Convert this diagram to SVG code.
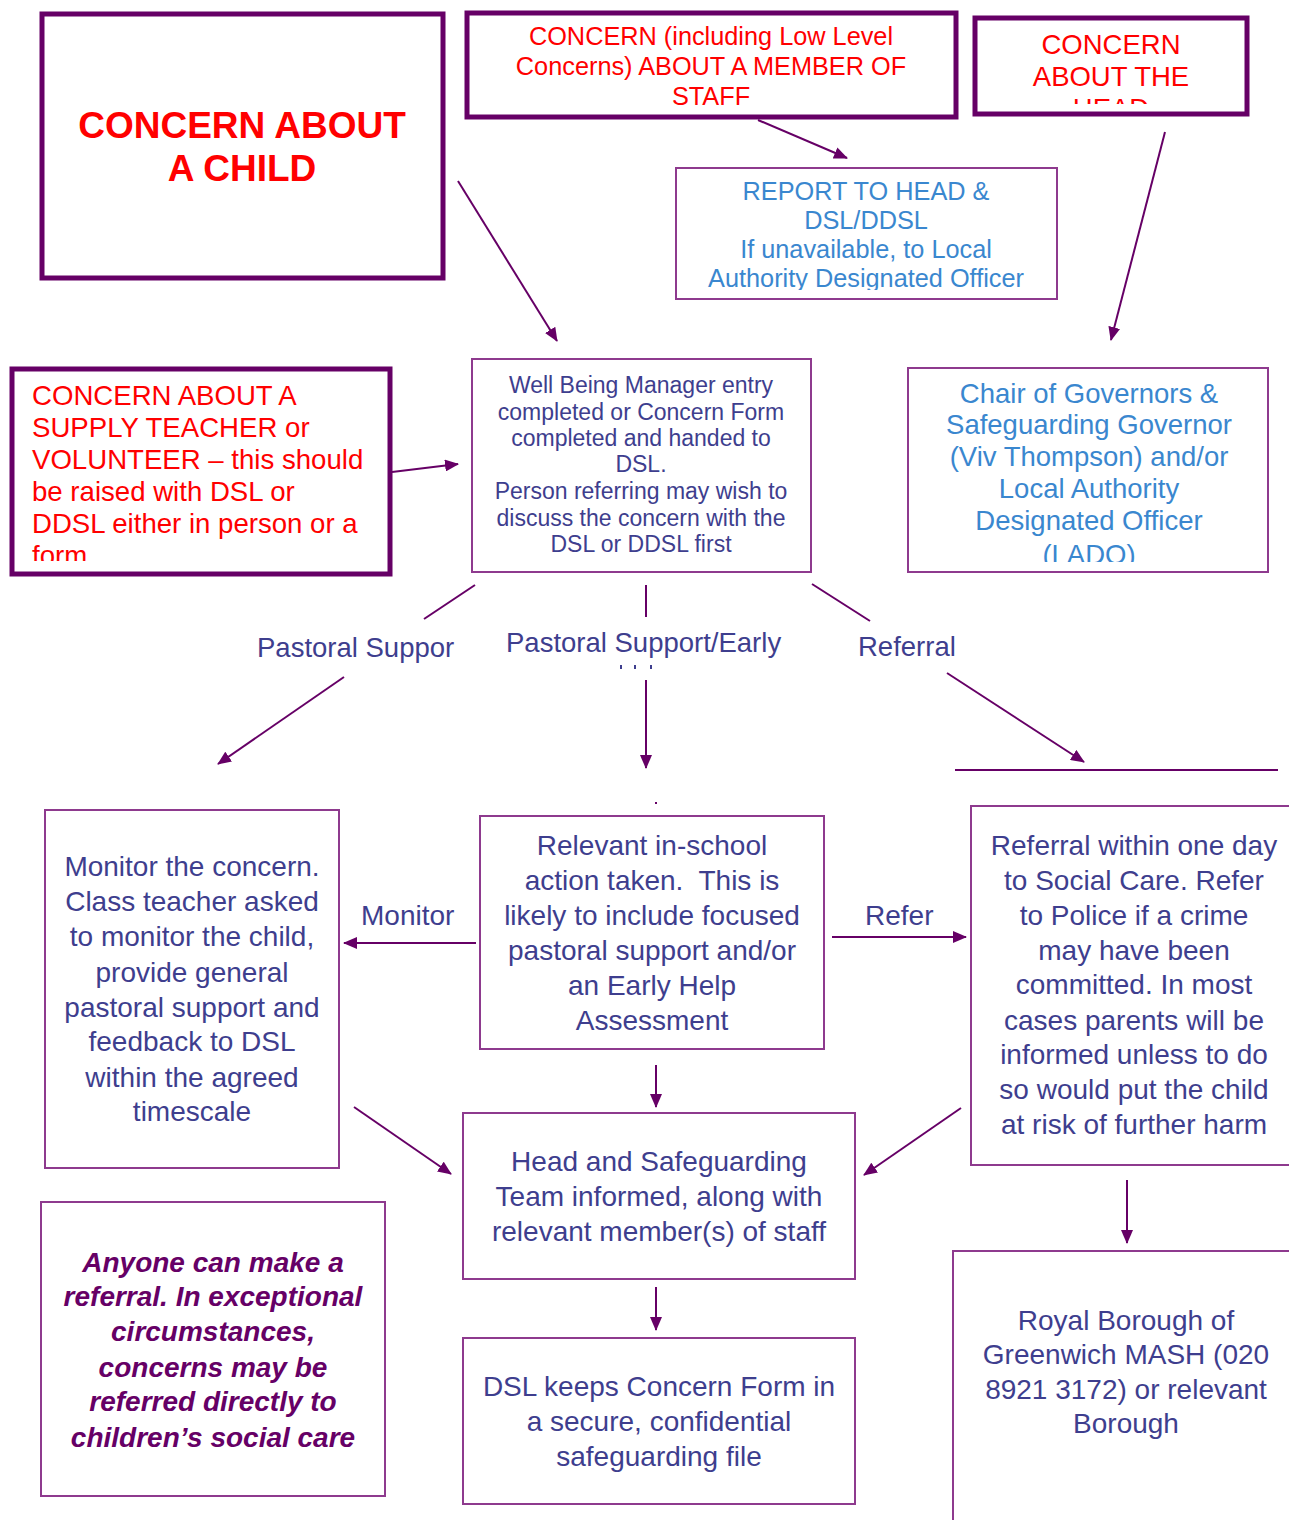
<svg xmlns="http://www.w3.org/2000/svg" width="1289" height="1520" viewBox="0 0 1289 1520">
<style>
.thick{fill:#fff;stroke:#660066;stroke-width:5}
.thin{fill:#fff;stroke:#8E3A8E;stroke-width:2}
.red{font-family:"Liberation Sans",Arial,sans-serif;fill:#FF0000}
.redb{font-family:"Liberation Sans",Arial,sans-serif;fill:#FF0000;font-weight:bold}
.lb{font-family:"Liberation Sans",Arial,sans-serif;fill:#3A87CF}
.db{font-family:"Liberation Sans",Arial,sans-serif;fill:#3E3E8E}
.pi{font-family:"Liberation Sans",Arial,sans-serif;fill:#660066;font-weight:bold;font-style:italic}
.c{text-anchor:middle}
.ln{stroke:#660066;stroke-width:2;fill:none}
</style>
<defs>
<marker id="ah" markerUnits="userSpaceOnUse" markerWidth="14" markerHeight="12" refX="13" refY="6" orient="auto">
<path d="M0,0 L14,6 L0,12 Z" fill="#660066"/>
</marker>
<clipPath id="cStaff"><rect x="466" y="12" width="491" height="95"/></clipPath>
<clipPath id="cHead"><rect x="974" y="17" width="274" height="87"/></clipPath>
<clipPath id="cReport"><rect x="676" y="168" width="381" height="122"/></clipPath>
<clipPath id="cSupply"><rect x="10" y="367" width="380" height="194"/></clipPath>
<clipPath id="cChair"><rect x="908" y="368" width="360" height="194"/></clipPath>
</defs>

<g id="connectors">
<line class="ln" x1="458" y1="181" x2="557" y2="341" marker-end="url(#ah)"/>
<line class="ln" x1="758" y1="120" x2="847" y2="158" marker-end="url(#ah)"/>
<line class="ln" x1="1165" y1="132" x2="1111" y2="340" marker-end="url(#ah)"/>
<line class="ln" x1="392" y1="472" x2="458" y2="464" marker-end="url(#ah)"/>
<line class="ln" x1="475" y1="585" x2="424" y2="619"/>
<line class="ln" x1="646" y1="585" x2="646" y2="617"/>
<line class="ln" x1="812" y1="584" x2="870" y2="621"/>
<line class="ln" x1="344" y1="677" x2="218" y2="764" marker-end="url(#ah)"/>
<line class="ln" x1="646" y1="680" x2="646" y2="768" marker-end="url(#ah)"/>
<line class="ln" x1="947" y1="673" x2="1084" y2="762" marker-end="url(#ah)"/>
<line class="ln" x1="955" y1="770" x2="1278" y2="770"/>
<line class="ln" x1="476" y1="943" x2="344" y2="943" marker-end="url(#ah)"/>
<line class="ln" x1="832" y1="937" x2="966" y2="937" marker-end="url(#ah)"/>
<line class="ln" x1="656" y1="1065" x2="656" y2="1107" marker-end="url(#ah)"/>
<line class="ln" x1="354" y1="1107" x2="451" y2="1174" marker-end="url(#ah)"/>
<line class="ln" x1="961" y1="1108" x2="864" y2="1175" marker-end="url(#ah)"/>
<line class="ln" x1="656" y1="1287" x2="656" y2="1330" marker-end="url(#ah)"/>
<line class="ln" x1="1127" y1="1180" x2="1127" y2="1243" marker-end="url(#ah)"/>
<rect x="655" y="802" width="2" height="2" fill="#660066"/>
<text class="db" font-size="27.5" x="257" y="657">Pastoral Suppor</text>
<text class="db" font-size="27.5" x="506" y="652">Pastoral Support/Early</text>
<g fill="#3E3E8E"><rect x="620" y="665" width="2" height="4"/><rect x="634" y="665" width="2" height="4"/><rect x="650" y="665" width="2" height="4"/></g>
<text class="db" font-size="27.5" x="858" y="656">Referral</text>
<text class="db" font-size="28" x="361" y="925">Monitor</text>
<text class="db" font-size="28" x="865" y="925">Refer</text>
</g>

<g id="child">
<rect class="thick" x="42" y="14" width="401" height="264"/>
<text class="redb c" font-size="37" x="242" y="138">CONCERN ABOUT</text>
<text class="redb c" font-size="37" x="242" y="181">A CHILD</text>
</g>

<g id="staff">
<rect class="thick" x="467" y="13" width="489" height="104"/>
<g clip-path="url(#cStaff)">
<text class="red c" font-size="25.3" x="711" y="45">CONCERN (including Low Level</text>
<text class="red c" font-size="25.3" x="711" y="75">Concerns) ABOUT A MEMBER OF</text>
<text class="red c" font-size="25.3" x="711" y="105">STAFF</text>
</g>
</g>

<g id="head">
<rect class="thick" x="975" y="18" width="272" height="96"/>
<g clip-path="url(#cHead)">
<text class="red c" font-size="27.5" x="1111" y="54">CONCERN</text>
<text class="red c" font-size="27.5" x="1111" y="86">ABOUT THE</text>
<text class="red c" font-size="27.5" x="1111" y="118">HEAD</text>
</g>
</g>

<g id="report">
<rect class="thin" x="676" y="168" width="381" height="131"/>
<g clip-path="url(#cReport)">
<text class="lb c" font-size="25.3" x="866" y="200">REPORT TO HEAD &amp;</text>
<text class="lb c" font-size="25.3" x="866" y="229">DSL/DDSL</text>
<text class="lb c" font-size="25.3" x="866" y="258">If unavailable, to Local</text>
<text class="lb c" font-size="25.3" x="866" y="287">Authority Designated Officer</text>
</g>
</g>

<g id="supply">
<rect class="thick" x="12" y="369" width="378" height="205"/>
<g clip-path="url(#cSupply)">
<text class="red" font-size="27.6" x="32" y="405">CONCERN ABOUT A</text>
<text class="red" font-size="27.6" x="32" y="437">SUPPLY TEACHER or</text>
<text class="red" font-size="27.6" x="32" y="469">VOLUNTEER – this should</text>
<text class="red" font-size="27.6" x="32" y="501">be raised with DSL or</text>
<text class="red" font-size="27.6" x="32" y="533">DDSL either in person or a</text>
<text class="red" font-size="27.6" x="32" y="565">form</text>
</g>
</g>

<g id="wellbeing">
<rect class="thin" x="472" y="359" width="339" height="213"/>
<text class="db c" font-size="23" x="641" y="393">Well Being Manager entry</text>
<text class="db c" font-size="23" x="641" y="420">completed or Concern Form</text>
<text class="db c" font-size="23" x="641" y="446">completed and handed to</text>
<text class="db c" font-size="23" x="641" y="472">DSL.</text>
<text class="db c" font-size="23" x="641" y="499">Person referring may wish to</text>
<text class="db c" font-size="23" x="641" y="526">discuss the concern with the</text>
<text class="db c" font-size="23" x="641" y="552">DSL or DDSL first</text>
</g>

<g id="chair">
<rect class="thin" x="908" y="368" width="360" height="204"/>
<g clip-path="url(#cChair)">
<text class="lb c" font-size="27.5" x="1089" y="403">Chair of Governors &amp;</text>
<text class="lb c" font-size="27.5" x="1089" y="434">Safeguarding Governor</text>
<text class="lb c" font-size="27.5" x="1089" y="466">(Viv Thompson) and/or</text>
<text class="lb c" font-size="27.5" x="1089" y="498">Local Authority</text>
<text class="lb c" font-size="27.5" x="1089" y="530">Designated Officer</text>
<text class="lb c" font-size="27.5" x="1089" y="564">(LADO)</text>
</g>
</g>

<g id="monitor">
<rect class="thin" x="45" y="810" width="294" height="358"/>
<text class="db c" font-size="28" x="192" y="876">Monitor the concern.</text>
<text class="db c" font-size="28" x="192" y="911">Class teacher asked</text>
<text class="db c" font-size="28" x="192" y="946">to monitor the child,</text>
<text class="db c" font-size="28" x="192" y="982">provide general</text>
<text class="db c" font-size="28" x="192" y="1017">pastoral support and</text>
<text class="db c" font-size="28" x="192" y="1051">feedback to DSL</text>
<text class="db c" font-size="28" x="192" y="1087">within the agreed</text>
<text class="db c" font-size="28" x="192" y="1121">timescale</text>
</g>

<g id="relevant">
<rect class="thin" x="480" y="816" width="344" height="233"/>
<text class="db c" font-size="28" x="652" y="855">Relevant in-school</text>
<text class="db c" font-size="28" x="652" y="890" xml:space="preserve">action taken.  This is</text>
<text class="db c" font-size="28" x="652" y="925">likely to include focused</text>
<text class="db c" font-size="28" x="652" y="960">pastoral support and/or</text>
<text class="db c" font-size="28" x="652" y="995">an Early Help</text>
<text class="db c" font-size="28" x="652" y="1030">Assessment</text>
</g>

<g id="referral">
<rect class="thin" x="971" y="806" width="330" height="359"/>
<text class="db c" font-size="28" x="1134" y="855">Referral within one day</text>
<text class="db c" font-size="28" x="1134" y="890">to Social Care. Refer</text>
<text class="db c" font-size="28" x="1134" y="925">to Police if a crime</text>
<text class="db c" font-size="28" x="1134" y="960">may have been</text>
<text class="db c" font-size="28" x="1134" y="994">committed. In most</text>
<text class="db c" font-size="28" x="1134" y="1030">cases parents will be</text>
<text class="db c" font-size="28" x="1134" y="1064">informed unless to do</text>
<text class="db c" font-size="28" x="1134" y="1099">so would put the child</text>
<text class="db c" font-size="28" x="1134" y="1134">at risk of further harm</text>
</g>

<g id="informed">
<rect class="thin" x="463" y="1113" width="392" height="166"/>
<text class="db c" font-size="28" x="659" y="1171">Head and Safeguarding</text>
<text class="db c" font-size="28" x="659" y="1206">Team informed, along with</text>
<text class="db c" font-size="28" x="659" y="1241">relevant member(s) of staff</text>
</g>

<g id="dslkeeps">
<rect class="thin" x="463" y="1338" width="392" height="166"/>
<text class="db c" font-size="28" x="659" y="1396">DSL keeps Concern Form in</text>
<text class="db c" font-size="28" x="659" y="1431">a secure, confidential</text>
<text class="db c" font-size="28" x="659" y="1466">safeguarding file</text>
</g>

<g id="anyone">
<rect class="thin" x="41" y="1202" width="344" height="294"/>
<text class="pi c" font-size="28" x="213" y="1272">Anyone can make a</text>
<text class="pi c" font-size="28" x="213" y="1306">referral. In exceptional</text>
<text class="pi c" font-size="28" x="213" y="1341">circumstances,</text>
<text class="pi c" font-size="28" x="213" y="1377">concerns may be</text>
<text class="pi c" font-size="28" x="213" y="1411">referred directly to</text>
<text class="pi c" font-size="28" x="213" y="1447">children’s social care</text>
</g>

<g id="royal">
<rect class="thin" x="953" y="1251" width="350" height="290"/>
<text class="db c" font-size="28" x="1126" y="1330">Royal Borough of</text>
<text class="db c" font-size="28" x="1126" y="1364">Greenwich MASH (020</text>
<text class="db c" font-size="28" x="1126" y="1399">8921 3172) or relevant</text>
<text class="db c" font-size="28" x="1126" y="1433">Borough</text>
</g>
</svg>
